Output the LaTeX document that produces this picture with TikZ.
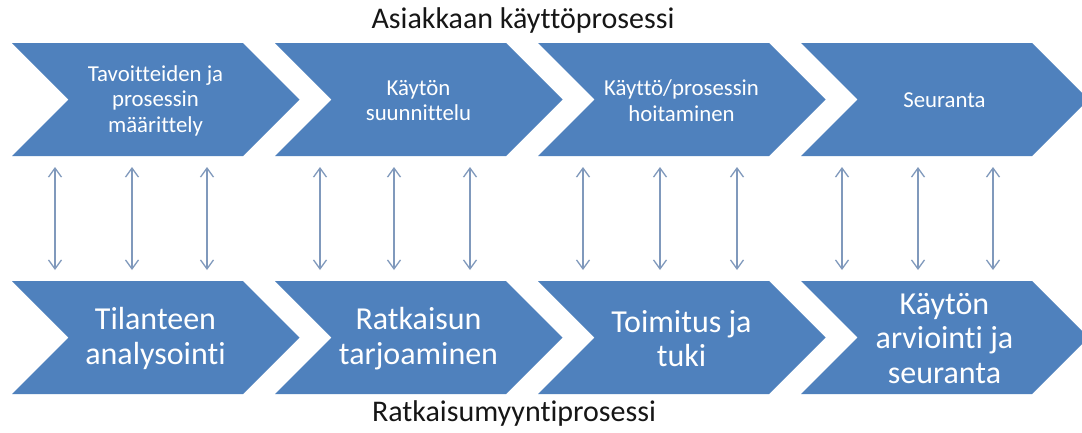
\documentclass[tikz,border=0pt]{standalone}
\usepackage{fontspec}
\setmainfont{Carlito}[Ligatures={NoCommon}]
\usetikzlibrary{arrows.meta}
\definecolor{chev}{RGB}{79,129,189}
\definecolor{arr}{RGB}{128,153,188}
\definecolor{ttl}{RGB}{22,22,22}
\begin{document}
\begin{tikzpicture}[x=1pt,y=-1pt,
  chevshape/.style={fill=chev,draw=none},
  toplbl/.style={text=white,font=\fontsize{22.8}{25.5}\selectfont,align=center,inner sep=0pt},
  botlbl/.style={text=white,font=\fontsize{32}{34.5}\selectfont,align=center,inner sep=0pt},
  link/.style={draw=arr,line width=1.3pt,{Straight Barb[length=9pt,width=13pt]}-{Straight Barb[length=9pt,width=13pt]}},
  ttlstyle/.style={text=ttl,font=\fontsize{30}{33}\selectfont,inner sep=0pt}]
\useasboundingbox (0,0) rectangle (1082,432);
\fill[white] (0,0) rectangle (1082,432);
% top row
\foreach \i/\lbl in {0/{Tavoitteiden ja\\prosessin\\määrittely},1/{Käytön\\suunnittelu},2/{Käyttö/prosessin\\hoitaminen},3/{Seuranta}}{
  \pgfmathsetmacro{\xa}{12+263*\i}
  \fill[chevshape] (\xa,43) -- (\xa+231,43) -- (\xa+287.5,99.5) -- (\xa+231,156) -- (\xa,156) -- (\xa+56.5,99.5) -- cycle;
  \node[toplbl] (t\i) at (\xa+143.5,100.5) {\lbl};
}
% bottom row
\foreach \i/\lbl in {0/{Tilanteen\\analysointi},1/{Ratkaisun\\tarjoaminen},2/{Toimitus ja\\tuki},3/{Käytön\\arviointi ja\\seuranta}}{
  \pgfmathsetmacro{\xa}{12+263*\i}
  \fill[chevshape] (\xa,281) -- (\xa+231,281) -- (\xa+287.5,337.5) -- (\xa+231,394) -- (\xa,394) -- (\xa+56.5,337.5) -- cycle;
  \node[botlbl] (b\i) at (\xa+143.5,338.5) {\lbl};
}
% links
\foreach \x [count=\k] in {55,132,207,320,394,470,583,660,737,842,918,993}{
  \coordinate (u\k) at (\x,167);
  \coordinate (d\k) at (\x,270);
  \draw[link] (u\k) -- (d\k);
}
\node[ttlstyle] (ttop) at (523,20) {Asiakkaan käyttöprosessi};
\node[ttlstyle] (tbot) at (514,413) {Ratkaisumyyntiprosessi};
\end{tikzpicture}
\end{document}
